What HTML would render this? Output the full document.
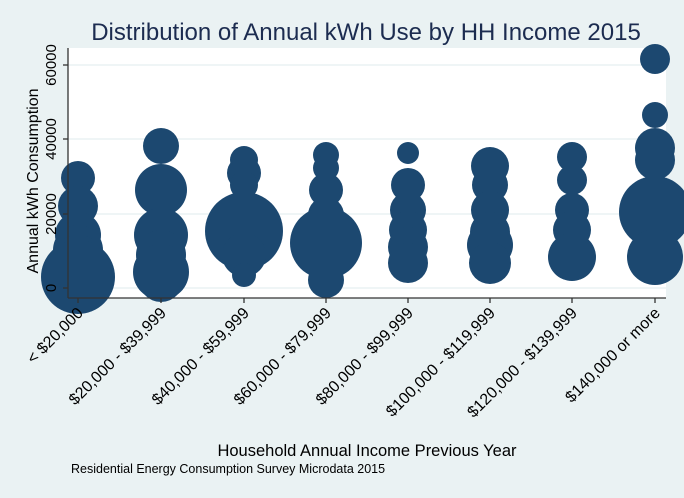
<!DOCTYPE html>
<html><head><meta charset="utf-8"><style>body{margin:0}svg{display:block}</style></head><body>
<svg width="684" height="498" xmlns="http://www.w3.org/2000/svg" font-family="Liberation Sans, sans-serif">
<rect width="684" height="498" fill="#eaf2f3"/>
<rect x="68" y="48" width="598" height="250" fill="#fff"/>
<g stroke="#eaf2f3" stroke-width="1.5">
<line x1="68" x2="666" y1="288" y2="288"/><line x1="68" x2="666" y1="214" y2="214"/>
<line x1="68" x2="666" y1="139" y2="139"/><line x1="68" x2="666" y1="65" y2="65"/>
</g>
<g fill="#1c4870">
<circle cx="78" cy="178" r="17"/><circle cx="78" cy="206" r="20"/><circle cx="78" cy="235" r="23"/><circle cx="78" cy="250" r="25"/><circle cx="78" cy="262" r="27"/><circle cx="78" cy="277" r="37"/>
<circle cx="161" cy="146" r="18"/><circle cx="161" cy="190" r="26"/><circle cx="161" cy="235" r="27"/><circle cx="161" cy="255" r="25"/><circle cx="161" cy="272" r="28"/><circle cx="161" cy="280" r="22"/>
<circle cx="244" cy="160" r="14"/><circle cx="244" cy="173" r="17"/><circle cx="244" cy="185" r="14"/><circle cx="244" cy="231" r="39"/><circle cx="244" cy="255" r="22"/><circle cx="244" cy="275" r="12"/>
<circle cx="326" cy="155" r="13"/><circle cx="326" cy="168" r="13"/><circle cx="326" cy="190" r="17"/><circle cx="326" cy="215" r="18"/><circle cx="326" cy="243" r="36"/><circle cx="326" cy="280" r="18"/>
<circle cx="408" cy="153" r="11"/><circle cx="408" cy="185" r="17"/><circle cx="408" cy="210" r="18"/><circle cx="408" cy="230" r="19"/><circle cx="408" cy="247" r="20"/><circle cx="408" cy="263" r="20"/>
<circle cx="490" cy="166" r="19"/><circle cx="490" cy="185" r="18"/><circle cx="490" cy="210" r="19"/><circle cx="490" cy="232" r="20"/><circle cx="490" cy="245" r="23"/><circle cx="490" cy="263" r="21"/>
<circle cx="572" cy="157" r="15"/><circle cx="572" cy="180" r="15"/><circle cx="572" cy="210" r="17"/><circle cx="572" cy="230" r="19"/><circle cx="572" cy="257" r="24"/>
<circle cx="655" cy="59" r="15"/><circle cx="655" cy="115" r="13"/><circle cx="655" cy="148" r="20"/><circle cx="655" cy="160" r="20"/><circle cx="655" cy="212" r="36"/><circle cx="655" cy="257" r="28"/>
</g>
<g stroke="#333" stroke-width="1.3">
<line x1="68" y1="48" x2="68" y2="298"/><line x1="68" y1="298" x2="666" y2="298"/>
<line x1="63" x2="68" y1="288" y2="288"/><line x1="63" x2="68" y1="214" y2="214"/><line x1="63" x2="68" y1="139" y2="139"/><line x1="63" x2="68" y1="65" y2="65"/>
<line x1="78" x2="78" y1="298" y2="303"/><line x1="161" x2="161" y1="298" y2="303"/><line x1="244" x2="244" y1="298" y2="303"/><line x1="326" x2="326" y1="298" y2="303"/><line x1="408" x2="408" y1="298" y2="303"/><line x1="490" x2="490" y1="298" y2="303"/><line x1="572" x2="572" y1="298" y2="303"/><line x1="655" x2="655" y1="298" y2="303"/>
</g>
<g font-size="15" fill="#000" text-anchor="middle">
<text transform="translate(56,288) rotate(-90)">0</text>
<text transform="translate(56,214) rotate(-90)">20000</text>
<text transform="translate(56,139) rotate(-90)">40000</text>
<text transform="translate(56,65) rotate(-90)">60000</text>
<text transform="translate(38,181) rotate(-90)" font-size="16">Annual kWh Consumption</text>
</g>
<g font-size="16" fill="#000" text-anchor="end">
<text transform="translate(84,314) rotate(-45)">&lt; $20,000</text>
<text transform="translate(167,314) rotate(-45)">$20,000 - $39,999</text>
<text transform="translate(250,314) rotate(-45)">$40,000 - $59,999</text>
<text transform="translate(332,314) rotate(-45)">$60,000 - $79,999</text>
<text transform="translate(414,314) rotate(-45)">$80,000 - $99,999</text>
<text transform="translate(496,314) rotate(-45)">$100,000 - $119,999</text>
<text transform="translate(578,314) rotate(-45)">$120,000 - $139,999</text>
<text transform="translate(661,314) rotate(-45)">$140,000 or more</text>
</g>
<text x="366" y="40" font-size="24" fill="#1c2c50" text-anchor="middle">Distribution of Annual kWh Use by HH Income 2015</text>
<text x="367" y="456" font-size="16.5" fill="#000" text-anchor="middle">Household Annual Income Previous Year</text>
<text x="71" y="473" font-size="12.5" fill="#000">Residential Energy Consumption Survey Microdata 2015</text>
</svg>
</body></html>
